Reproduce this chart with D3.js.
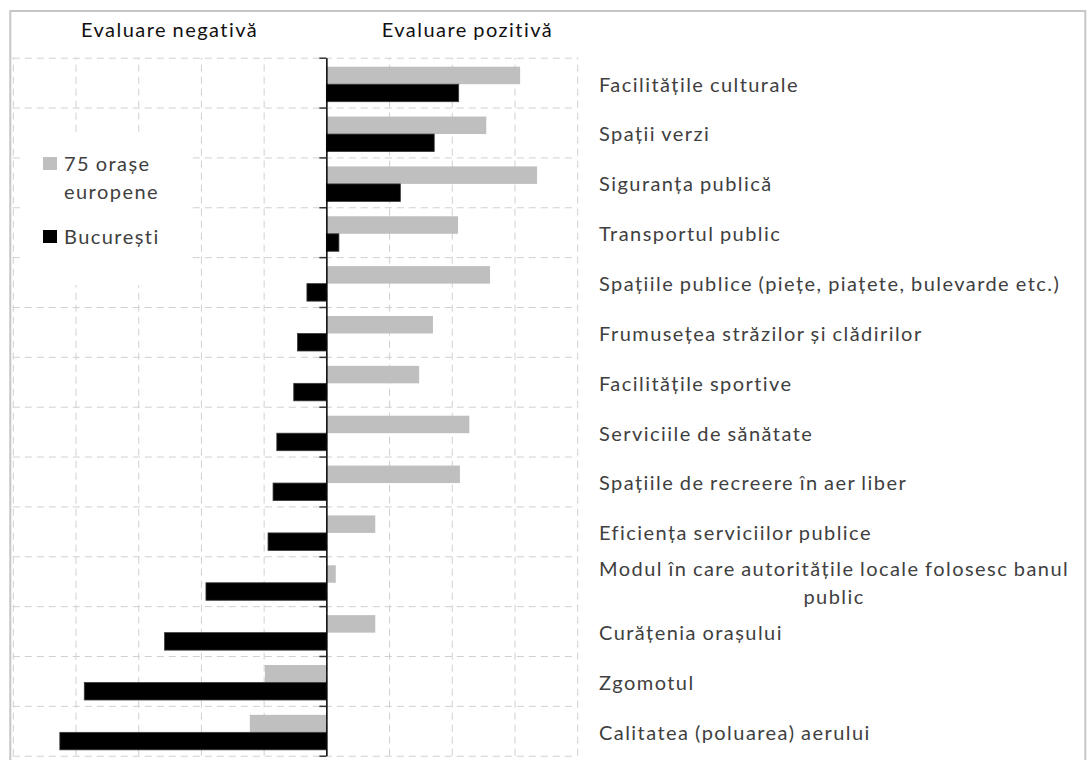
<!DOCTYPE html>
<html>
<head>
<meta charset="utf-8">
<script src="https://cdn.jsdelivr.net/npm/d3@7"></script>
<style>
    body { margin: 0; background: #fff; }
    text { font-family: Lato, "Open Sans", sans-serif; font-size: 20px; letter-spacing: 1.45px; word-spacing: -1px; }
</style>
</head>
<body>
<svg id="chart" width="1087" height="760"></svg>
<script>
// categories, top to bottom
var categories = [
    'Facilitățile culturale',
    'Spații verzi',
    'Siguranța publică',
    'Transportul public',
    'Spațiile publice (piețe, piațete, bulevarde etc.)',
    'Frumusețea străzilor și clădirilor',
    'Facilitățile sportive',
    'Serviciile de sănătate',
    'Spațiile de recreere în aer liber',
    'Eficiența serviciilor publice',
    'Modul în care autoritățile locale folosesc banul\npublic',
    'Curățenia orașului',
    'Zgomotul',
    'Calitatea (poluarea) aerului'
];
var europeValues = [30.9, 25.5, 33.6, 21.0, 26.1, 17.0, 14.8, 22.8, 21.3, 7.8, 1.5, 7.8, -9.8, -12.2];
var bucharestValues = [21.1, 17.2, 11.8, 2.0, -3.1, -4.6, -5.2, -7.9, -8.5, -9.3, -19.2, -25.8, -38.6, -42.5];
var seriesNames = ['75 orașe\neuropene', 'București'];
var seriesColors = ['#bfbfbf', '#000000'];
var xTicks = [-50, -40, -30, -20, -10, 0, 10, 20, 30, 40];
var sideTitles = ['Evaluare negativă', 'Evaluare pozitivă'];

var svg = d3.select('#chart');
var plot = { left: 12.8, right: 577.2, top: 57.7, bottom: 755.7 };

var x = d3.scaleLinear().domain([-50, 40]).range([plot.left, plot.right]);
var y = d3.scaleBand().domain(categories).range([plot.top, plot.bottom]);
var ySeries = d3.scaleBand().domain([0, 1]).range([9, 44]);
// band boundaries, for horizontal grid and axis ticks
var yEdge = d3.scaleLinear().domain([0, categories.length]).range([plot.top, plot.bottom]);

// outer frame
svg.append('rect')
    .attr('x', 10.3).attr('y', 11)
    .attr('width', 1075).attr('height', 800)
    .attr('fill', 'none')
    .attr('stroke', '#c6c6c6')
    .attr('stroke-width', 2);

// vertical grid
svg.append('g')
    .attr('class', 'grid')
    .attr('transform', 'translate(0,' + plot.bottom + ')')
    .call(d3.axisBottom(x).tickValues(xTicks).tickSize(-(plot.bottom - plot.top)).tickFormat(''))
    .call(function (g) { g.select('.domain').remove(); });

// horizontal grid
svg.append('g')
    .attr('class', 'grid')
    .attr('transform', 'translate(' + plot.left + ',0)')
    .call(d3.axisLeft(yEdge).tickValues(d3.range(categories.length + 1)).tickSize(-(plot.right - plot.left)).tickFormat(''))
    .call(function (g) { g.select('.domain').remove(); });

svg.selectAll('.grid line')
    .attr('stroke', '#d0d0d0')
    .attr('stroke-width', 1)
    .attr('stroke-dasharray', '7,5');

// legend background hides the grid behind it
svg.append('rect')
    .attr('x', 22).attr('y', 137)
    .attr('width', 166).attr('height', 148)
    .attr('fill', '#fff');

// bars
var allValues = [europeValues, bucharestValues];
allValues.forEach(function (values, s) {
    svg.append('g').selectAll('rect')
        .data(values)
        .enter().append('rect')
        .attr('x', function (d) { return x(Math.min(0, d)); })
        .attr('y', function (d, i) { return y(categories[i]) + ySeries(s); })
        .attr('width', function (d) { return Math.abs(x(d) - x(0)); })
        .attr('height', ySeries.bandwidth())
        .attr('fill', seriesColors[s])
        .attr('stroke', s === 1 ? '#3a3a3a' : 'none')
        .attr('stroke-width', 0.8);
});

// zero axis with ticks on band edges
var axis = svg.append('g')
    .attr('transform', 'translate(' + x(0) + ',0)')
    .call(d3.axisLeft(yEdge).tickValues(d3.range(categories.length + 1)).tickSize(7).tickSizeOuter(0).tickFormat(''));
axis.select('.domain').attr('stroke', '#000').attr('stroke-width', 1.5);
axis.selectAll('.tick line').attr('stroke', '#333').attr('stroke-width', 1.5);

// category labels on the right
svg.append('g').selectAll('text')
    .data(categories)
    .enter().append('text')
    .attr('fill', '#404040')
    .each(function (c) {
        var t = d3.select(this);
        var lines = c.split('\n');
        var cy = y(c) + y.bandwidth() / 2 + 9;
        if (lines.length === 1) {
            t.attr('x', 599).attr('y', cy).text(c);
            return;
        }
        // wrapped label: lines centred under the first one
        var first = t.append('tspan').text(lines[0]);
        var w = first.node().getComputedTextLength();
        var cx = 599 + w / 2;
        t.attr('text-anchor', 'middle');
        first.remove();
        lines.forEach(function (line, k) {
            t.append('tspan')
                .attr('x', cx)
                .attr('y', cy + (k - (lines.length - 1) / 2) * 28)
                .text(line);
        });
    });

// side titles
svg.selectAll('.side-title')
    .data(sideTitles)
    .enter().append('text')
    .attr('class', 'side-title')
    .attr('x', function (d, i) { return i === 0 ? x(-25) : x(22.5); })
    .attr('y', 37)
    .attr('text-anchor', 'middle')
    .attr('fill', '#111')
    .text(function (d) { return d; });

// legend
var legendRows = [157, 230];
seriesNames.forEach(function (name, s) {
    svg.append('rect')
        .attr('x', 43).attr('y', legendRows[s])
        .attr('width', 14).attr('height', 13)
        .attr('fill', seriesColors[s]);
    var t = svg.append('text').attr('fill', '#404040');
    name.split('\n').forEach(function (line, k) {
        t.append('tspan')
            .attr('x', 64)
            .attr('y', legendRows[s] + 14 + k * 28)
            .text(line);
    });
});
</script>
</body>
</html>
